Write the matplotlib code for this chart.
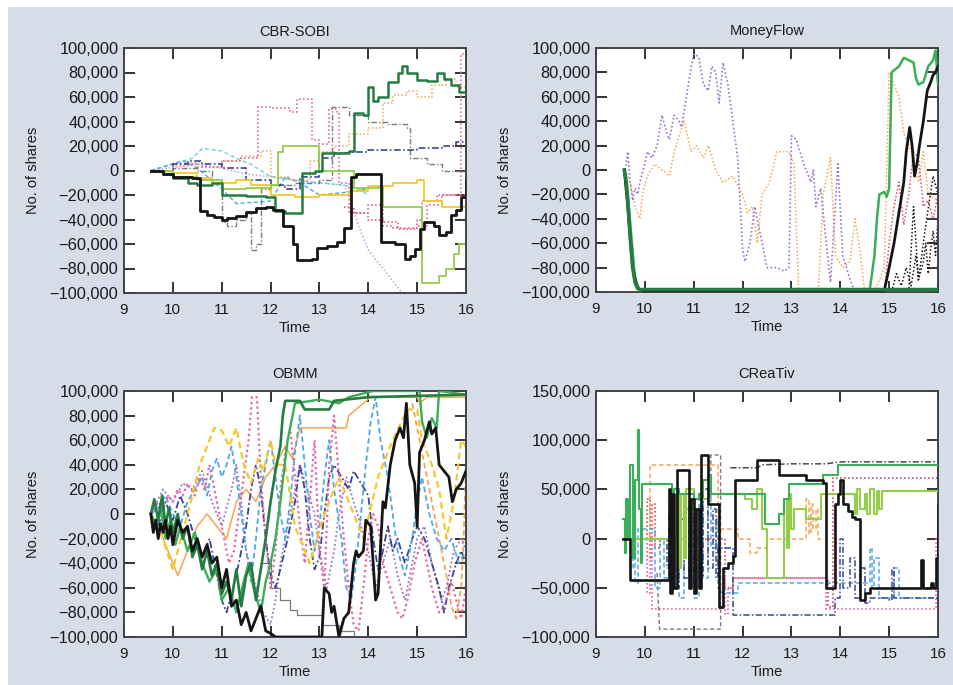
import matplotlib
matplotlib.use("Agg")
import matplotlib.pyplot as plt
from matplotlib.ticker import FuncFormatter
from matplotlib.patches import Rectangle

plt.rcParams['font.family'] = ['Liberation Sans', 'DejaVu Sans']

# ---------------- data (time in hours, values in thousands of shares) ----------------
titles = ["CBR-SOBI", "MoneyFlow", "OBMM", "CReaTiv"]
x_ticks = [9, 10, 11, 12, 13, 14, 15, 16]
y_ticks_a = [-100000, -80000, -60000, -40000, -20000, 0, 20000, 40000, 60000, 80000, 100000]
y_ticks_b = [-100000, -50000, 0, 50000, 100000, 150000]

# CBR-SOBI
sobi_black = [(9.55,0),(9.8,-3),(10.0,-5),(10.2,-5),(10.4,-6),(10.55,-33),(10.7,-36),(10.85,-38),(11.0,-40),(11.1,-39),(11.3,-37),(11.5,-34),(11.7,-31),(11.9,-30),(12.05,-32),(12.25,-45),(12.45,-60),(12.55,-73),(12.85,-72),(12.95,-63),(13.15,-62),(13.35,-58),(13.5,-47),(13.65,-5),(13.75,-3),(14.2,-3),(14.27,-58),(14.55,-60),(14.75,-72),(14.85,-70),(14.95,-64),(15.05,-48),(15.15,-42),(15.35,-45),(15.45,-53),(15.6,-50),(15.7,-36),(15.8,-32),(15.9,-22),(16.0,-8)]
sobi_dkgreen = [(9.55,0),(9.8,-3),(10.0,-6),(10.3,-10),(10.5,-12),(10.8,-10),(11.0,-20),(11.2,-20),(11.5,-21),(11.9,-22),(12.1,-33),(12.3,-35),(12.65,-2),(12.9,0),(13.05,14),(13.6,16),(13.7,47),(13.9,45),(14.0,68),(14.1,57),(14.2,60),(14.4,72),(14.6,80),(14.7,85),(14.8,80),(15.0,74),(15.2,73),(15.4,80),(15.55,75),(15.7,70),(15.85,64),(16.0,60)]
sobi_ltgreen = [(9.55,0),(10.0,-5),(10.5,-8),(11.0,-15),(11.5,-14),(12.0,-12),(12.15,15),(12.25,20),(12.9,20),(13.0,0),(13.5,0),(13.7,-14),(14.25,-13),(14.3,-30),(15.0,-30),(15.1,-92),(15.45,-86),(15.6,-80),(15.75,-68),(15.85,-60),(16.0,-40)]
sobi_yellow = [(9.55,0),(10.0,-2),(10.5,-6),(10.8,-10),(11.3,-8),(11.6,-12),(12.0,-20),(12.5,-22),(13.0,-20),(13.6,-17),(14.0,-13),(14.5,-10),(15.0,-8),(15.15,-25),(15.5,-30),(16.0,-40)]
sobi_pink = [(9.55,0),(10.0,5),(10.5,3),(11.0,8),(11.4,10),(11.7,10),(11.75,52),(12.0,51),(12.4,48),(12.55,58),(12.85,25),(13.0,22),(13.2,50),(13.35,48),(13.4,-10),(13.6,-35),(14.0,-28),(14.3,-45),(14.5,-47),(15.0,-45),(15.2,-28),(15.5,-20),(15.85,-20),(15.9,95),(16.0,95)]
sobi_orange = [(9.55,0),(10.0,4),(10.3,6),(10.6,3),(11.0,8),(11.4,12),(11.8,16),(12.0,-5),(12.4,-8),(12.8,8),(13.0,15),(13.3,20),(13.6,30),(14.0,35),(14.3,55),(14.5,62),(14.8,65),(15.0,60),(15.3,70),(15.6,75),(15.8,68),(16.0,70)]
sobi_navy = [(9.55,0),(10.0,5),(10.3,8),(10.6,5),(11.0,2),(11.5,-8),(12.0,-12),(12.3,-15),(12.6,-5),(13.0,10),(13.3,14),(13.6,15),(14.0,17),(14.5,17),(15.0,18),(15.5,20),(15.8,23),(16.0,24)]
sobi_gray = [(9.55,0),(10.0,2),(10.5,0),(10.8,-10),(11.0,-42),(11.1,-45),(11.3,-40),(11.5,-35),(11.6,-65),(11.7,-60),(11.8,-15),(12.0,-12),(12.5,-10),(13.0,-8),(13.25,52),(13.6,45),(14.0,40),(14.4,38),(14.8,35),(14.85,10),(15.2,5),(15.5,0),(16.0,-5)]
sobi_lavender = [(9.55,0),(10.5,5),(11.0,2),(11.5,-3),(12.0,-5),(12.5,-8),(13.0,-10),(13.5,-12),(13.6,-20),(13.8,-45),(14.0,-65),(14.2,-75),(14.5,-90),(14.65,-98),(14.75,-100)]
sobi_cyan = [(9.55,0),(10.0,5),(10.4,10),(10.6,18),(11.0,16),(11.3,10),(11.6,5),(12.0,-5),(12.5,-8),(13.0,-10),(13.5,-12),(13.8,-15),(14.0,-20)]
sobi_red = [(13.5,-30),(13.7,-35),(14.0,-40),(14.3,-42),(14.6,-48),(15.0,-40),(15.1,-25),(15.4,-20),(15.7,-20),(16.0,-15)]
sobi_blue = [(9.55,0),(10.2,8),(10.5,2),(11.0,-15),(11.3,-27),(12.0,-25),(12.3,-5),(12.6,-10),(13.0,-20),(13.5,-18),(14.0,-15)]

# MoneyFlow
mf_dkgreen = [(9.58,0),(9.62,-10),(9.65,-25),(9.7,-55),(9.75,-80),(9.8,-92),(9.85,-97),(9.9,-98),(16.0,-98)]
mf_black = [(9.58,0),(9.65,-30),(9.75,-80),(9.85,-97),(9.95,-99),(14.9,-99),(15.0,-80),(15.1,-60),(15.2,-35),(15.3,-10),(15.35,15),(15.42,35),(15.47,20),(15.52,-5),(15.57,5),(15.62,20),(15.7,40),(15.78,65),(15.85,72),(15.9,78),(15.95,80),(16.0,85)]
mf_green = [(9.58,0),(9.65,-20),(9.8,-90),(9.9,-99),(14.6,-99),(14.7,-70),(14.75,-40),(14.8,-20),(14.9,-18),(14.95,-22),(15.0,-15),(15.05,80),(15.2,85),(15.3,92),(15.4,90),(15.5,88),(15.55,75),(15.6,70),(15.7,72),(15.8,85),(15.9,90),(15.95,98),(16.0,70)]
mf_purple = [(9.6,0),(9.65,15),(9.7,-10),(9.75,-25),(9.8,-15),(9.85,-20),(9.9,-10),(10.0,5),(10.05,15),(10.15,10),(10.25,20),(10.35,45),(10.45,30),(10.5,25),(10.6,45),(10.7,40),(10.75,35),(10.85,60),(10.95,85),(11.0,95),(11.1,93),(11.2,70),(11.3,65),(11.37,85),(11.45,80),(11.52,55),(11.6,88),(11.7,70),(11.8,40),(11.9,10),(12.0,-65),(12.05,-75),(12.15,-60),(12.25,-30),(12.35,-50),(12.5,-80),(12.7,-80),(12.85,-83),(12.95,-80),(13.0,28),(13.1,25),(13.25,5),(13.4,-10),(13.45,0),(13.5,-30),(13.6,-15),(13.7,-55),(13.8,-92),(13.85,-60),(13.95,5),(14.05,-70),(14.2,-90),(14.3,-100)]
mf_orange = [(9.6,0),(9.7,-10),(9.8,-30),(9.9,-40),(9.95,-20),(10.05,-5),(10.2,5),(10.35,0),(10.5,-5),(10.6,15),(10.8,40),(10.95,15),(11.05,20),(11.2,10),(11.3,20),(11.45,0),(11.6,-10),(11.8,-5),(12.0,-20),(12.1,-35),(12.2,-30),(12.3,-60),(12.4,-20),(12.55,-10),(12.7,15),(12.95,15),(13.05,5),(13.15,-100),(13.55,-100),(13.65,-20),(13.8,10),(13.9,-70),(14.05,-80),(14.2,-75),(14.3,-40),(14.4,-65),(14.5,-100),(14.7,-100),(14.9,-80),(15.0,80),(15.1,70),(15.2,60),(15.3,30),(15.45,15),(15.5,10),(15.6,-10),(15.7,15),(15.8,-20),(16.0,-25)]
mf_red = [(14.9,-100),(15.0,-60),(15.1,-30),(15.2,-10),(15.3,-45),(15.4,-20),(15.5,15),(15.6,10),(15.7,-30),(15.8,-25),(15.9,-40),(16.0,-20)]
mf_blackdot1 = [(15.05,-100),(15.15,-85),(15.25,-95),(15.35,-80),(15.45,-95),(15.55,-70),(15.6,-90),(15.7,-75),(15.75,-60),(15.8,-85),(15.85,-65),(15.9,-50),(15.95,-70),(16.0,-40)]
mf_blackdot2 = [(15.4,-100),(15.5,-30),(15.6,-90),(15.75,-45),(15.9,-5),(16.0,-20)]

# OBMM
ob_black = [(9.55,0),(9.6,-15),(9.65,-5),(9.7,-20),(9.75,-8),(9.8,-15),(9.85,-5),(9.9,-20),(9.95,-10),(10.0,-25),(10.1,-5),(10.2,-15),(10.3,-10),(10.4,-30),(10.5,-20),(10.6,-35),(10.7,-25),(10.8,-40),(10.9,-35),(11.0,-60),(11.1,-45),(11.2,-75),(11.3,-70),(11.4,-90),(11.5,-80),(11.6,-95),(11.7,-85),(11.8,-75),(11.9,-95),(12.0,-97),(12.1,-100),(13.05,-100),(13.1,-60),(13.2,-65),(13.25,-80),(13.3,-75),(13.4,-100),(13.5,-85),(13.6,-80),(13.7,-40),(13.75,-30),(13.8,-35),(13.9,-30),(13.95,-5),(14.05,-10),(14.15,-70),(14.2,-65),(14.3,10),(14.35,5),(14.45,40),(14.55,60),(14.65,70),(14.72,62),(14.78,90),(14.85,40),(14.95,25),(15.0,-10),(15.05,50),(15.15,60),(15.25,75),(15.3,65),(15.38,70),(15.45,40),(15.55,35),(15.65,30),(15.72,10),(15.8,20),(15.9,25),(16.0,35)]
ob_dkgreen = [(9.55,0),(9.62,12),(9.7,-5),(9.78,15),(9.85,-10),(9.92,5),(10.0,-15),(10.1,0),(10.2,-20),(10.3,-10),(10.4,-35),(10.5,-25),(10.6,-45),(10.7,-30),(10.8,-50),(10.9,-40),(11.0,-65),(11.1,-55),(11.2,-70),(11.3,-45),(11.4,-75),(11.5,-50),(11.6,-40),(11.7,-70),(11.8,-45),(11.9,-20),(12.0,10),(12.1,35),(12.2,55),(12.25,80),(12.3,92),(12.6,92),(12.7,85),(13.2,85),(13.3,92),(14.0,95),(16.0,97)]
ob_green = [(9.55,0),(9.65,-10),(9.75,5),(9.85,-20),(9.95,-5),(10.05,-25),(10.15,-10),(10.3,-30),(10.45,-15),(10.6,-40),(10.75,-55),(10.9,-45),(11.0,-70),(11.15,-60),(11.3,-80),(11.45,-55),(11.55,-40),(11.65,-60),(11.8,-80),(11.9,-55),(12.0,-40),(12.1,-20),(12.2,10),(12.35,60),(12.5,90),(13.0,93),(13.4,90),(13.6,95),(14.1,100),(15.05,100),(15.1,75),(15.2,62),(15.3,78),(15.4,70),(15.45,100),(16.0,97)]
ob_yellow = [(9.55,0),(9.75,-15),(10.0,-45),(10.2,-15),(10.4,15),(10.55,40),(10.7,55),(10.85,70),(11.0,68),(11.15,55),(11.3,70),(11.45,40),(11.6,25),(11.75,45),(11.85,35),(12.0,60),(12.1,40),(12.3,40),(12.5,-10),(12.8,-40),(13.1,0),(13.4,30),(13.6,10),(13.9,-20),(14.2,30),(14.5,60),(14.8,85),(15.0,85),(15.1,60),(15.3,40),(15.45,20),(15.6,-20),(15.75,10),(15.9,60),(16.0,55)]
ob_orange = [(9.55,0),(9.7,-10),(9.9,-30),(10.1,-50),(10.3,-30),(10.5,-10),(10.7,0),(10.9,-10),(11.1,-20),(11.3,10),(11.5,20),(11.7,10),(11.9,30),(12.1,40),(12.3,55),(12.45,45),(12.6,70),(13.55,70),(13.6,80),(13.75,85),(13.9,90),(14.05,95),(15.0,95),(15.05,90),(15.2,95),(16.0,95)]
ob_pink = [(9.55,0),(9.7,10),(9.8,5),(9.9,15),(10.0,10),(10.1,20),(10.2,15),(10.3,25),(10.45,15),(10.55,30),(10.65,20),(10.75,40),(10.85,20),(10.95,0),(11.05,-20),(11.15,-40),(11.25,-30),(11.35,0),(11.45,30),(11.55,60),(11.62,95),(11.72,95),(11.8,30),(11.9,-20),(12.0,-60),(12.1,-30),(12.2,20),(12.3,50),(12.4,70),(12.5,30),(12.6,-10),(12.7,-40),(12.8,10),(12.9,60),(13.0,-30),(13.1,-60),(13.2,40),(13.3,80),(13.4,30),(13.5,-20),(13.6,-60),(13.7,-90),(13.8,-95),(13.9,-60),(14.0,-20),(14.1,0),(14.2,-10),(14.3,-40),(14.45,-60),(14.6,-80),(14.7,-85),(14.8,-70),(14.95,-40),(15.1,-20),(15.2,-40),(15.3,-60),(15.45,-80),(15.55,-75),(15.7,-55),(15.8,-70),(15.9,-85),(16.0,-60)]
ob_blue = [(9.55,0),(9.7,5),(9.85,15),(10.0,0),(10.15,-10),(10.3,10),(10.45,20),(10.6,30),(10.7,15),(10.8,35),(10.9,45),(11.0,30),(11.1,40),(11.2,55),(11.3,30),(11.4,0),(11.5,-30),(11.6,-55),(11.7,-20),(11.8,20),(11.9,40),(12.0,60),(12.1,30),(12.2,0),(12.3,-20),(12.4,10),(12.5,50),(12.6,80),(12.7,40),(12.8,0),(12.9,-30),(13.0,-10),(13.1,30),(13.2,60),(13.3,20),(13.45,-20),(13.55,-60),(13.65,-70),(13.75,-40),(13.85,0),(13.95,40),(14.05,75),(14.15,95),(14.25,60),(14.4,30),(14.5,0),(14.6,-30),(14.75,-50),(14.9,-20),(15.0,10),(15.1,30),(15.25,0),(15.4,-20),(15.55,-30),(15.7,-20),(15.85,-40),(16.0,-30)]
ob_navy = [(9.55,0),(9.7,-10),(9.85,10),(10.0,-5),(10.15,15),(10.3,0),(10.45,-20),(10.6,-35),(10.75,-20),(10.9,-50),(11.0,-70),(11.1,-80),(11.2,-65),(11.35,-40),(11.5,-10),(11.6,20),(11.7,40),(11.8,20),(11.9,-20),(12.0,-50),(12.1,-60),(12.2,-45),(12.35,-20),(12.5,10),(12.6,40),(12.7,20),(12.8,-20),(12.9,-45),(13.0,-35),(13.1,0),(13.2,30),(13.3,40),(13.45,30),(13.6,20),(13.7,35),(13.85,25),(14.0,15),(14.1,-20),(14.2,-45),(14.3,-30),(14.4,-10),(14.5,-30),(14.6,-20),(14.75,-40),(14.9,-20),(15.0,-10),(15.15,-20),(15.3,-40),(15.45,-60),(15.55,-80),(15.65,-60),(15.8,-40),(15.9,-30),(16.0,-40)]
ob_purple = [(9.55,0),(9.8,20),(10.0,10),(10.2,25),(10.4,20),(10.6,35),(10.8,10),(11.0,-10),(11.2,20),(11.3,40),(11.4,10),(11.5,-30),(11.7,-60),(11.85,-80),(12.0,-90),(12.1,-70),(12.2,-40),(12.4,0),(12.6,40),(12.75,20),(12.9,0),(13.0,-30),(13.15,-60),(13.3,-30),(13.4,0),(13.55,30),(13.7,10),(13.85,-10),(14.0,-30),(14.15,-60),(14.3,-40),(14.45,-20),(14.6,-50),(14.75,-70),(14.9,-40),(15.0,-20),(15.15,-10),(15.3,-40),(15.5,-70),(15.6,-60),(15.75,-30),(15.9,-20),(16.0,-30)]
ob_orange2 = [(14.9,90),(15.0,70),(15.1,50),(15.2,30),(15.3,10),(15.45,-20),(15.6,-50),(15.7,-75),(15.8,-85),(15.9,-60),(15.95,-20),(16.0,40)]
ob_gray = [(11.8,-40),(12.0,-60),(12.2,-70),(12.4,-78),(12.55,-82),(13.0,-82),(13.05,-90),(13.4,-95),(13.7,-100),(16.0,-100)]

# CReaTiv
cr_black = [(9.55,0),(9.7,-42),(10.45,-42),(10.5,50),(10.52,-55),(10.55,45),(10.6,-50),(10.65,70),(10.85,70),(10.9,-50),(10.95,40),(11.0,-55),(11.05,30),(11.1,-50),(11.15,85),(11.25,85),(11.3,35),(11.52,-70),(11.6,-30),(11.7,-25),(11.8,-18),(11.85,60),(12.25,60),(12.3,80),(12.7,80),(12.75,65),(13.2,65),(13.3,60),(13.65,57),(13.7,-50),(13.85,-50),(13.9,35),(13.95,45),(14.0,60),(14.05,35),(14.15,28),(14.25,22),(14.3,20),(14.4,-62),(14.5,-55),(14.6,-50),(15.6,-50),(15.65,-22),(15.7,-50),(15.85,-45),(15.9,-50),(15.95,-20),(16.0,35)]
cr_green = [(9.55,20),(9.6,-15),(9.62,40),(9.65,0),(9.7,75),(9.75,-20),(9.8,60),(9.85,110),(9.88,30),(9.92,-25),(9.95,55),(10.5,55),(10.55,40),(10.6,50),(10.7,45),(11.0,40),(11.1,45),(11.2,60),(11.3,65),(11.35,45),(11.7,45),(11.9,45),(12.35,45),(12.45,15),(12.7,15),(12.75,25),(12.85,40),(12.95,55),(13.6,55),(13.65,65),(13.9,65),(13.95,75),(16.0,75)]
cr_ltgreen = [(9.55,0),(10.6,0),(10.65,45),(10.7,-30),(10.75,45),(10.8,-20),(10.85,50),(11.0,30),(11.1,-20),(11.15,40),(11.3,45),(11.9,45),(12.05,40),(12.2,30),(12.3,50),(12.4,10),(12.5,-40),(12.75,-40),(12.85,40),(12.9,-10),(12.95,45),(13.0,10),(13.05,30),(13.3,20),(13.6,45),(13.7,45),(14.2,45),(14.3,25),(14.35,50),(14.4,30),(14.5,45),(14.55,25),(14.6,50),(14.7,25),(14.75,48),(14.8,30),(14.85,48),(16.0,48)]
cr_orange = [(9.55,0),(10.05,0),(10.1,75),(11.45,75),(11.5,10),(11.9,0),(12.1,0),(12.15,-15),(12.3,-10),(12.5,0),(13.2,0),(13.3,40),(13.35,5),(13.4,35),(13.45,10),(13.5,30),(13.55,0),(13.6,0)]
cr_red = [(9.55,0),(10.0,0),(10.05,40),(10.1,-20),(10.15,35),(10.2,-10),(10.3,0),(11.6,0),(11.65,-50),(11.8,-40),(13.7,-40),(13.75,-70),(13.85,62),(16.0,62)]
cr_pink = [(9.55,0),(10.0,0),(10.05,-55),(10.1,-20),(10.15,-72),(11.55,-72),(11.6,-40),(11.65,-77),(11.7,-50),(11.8,-40),(13.65,-40),(13.7,-72),(15.9,-72),(15.95,0),(16.0,-80)]
cr_blue = [(9.55,0),(9.65,10),(9.7,-30),(9.75,20),(9.8,-45),(9.85,10),(10.2,-50),(10.3,0),(10.4,-40),(10.5,10),(10.6,-40),(10.65,40),(10.7,-60),(10.8,30),(10.9,-30),(11.0,-60),(11.1,40),(11.2,-40),(11.3,50),(11.35,-10),(11.45,20),(11.5,-50),(11.55,-55),(11.8,-55),(11.9,-45),(13.7,-45),(14.5,-45),(14.6,-10),(14.65,-50),(14.7,-20),(14.8,-60),(15.0,-60),(15.1,-30),(15.2,-60),(16.0,-60)]
cr_navy = [(9.55,0),(10.4,0),(10.45,-30),(10.5,30),(10.6,-50),(10.7,20),(10.8,-40),(10.9,40),(10.95,-50),(11.0,30),(11.1,-40),(11.2,50),(11.3,-30),(11.4,30),(11.45,-40),(11.5,-10),(11.8,-78),(13.7,-78),(13.9,-60),(14.0,0),(14.05,-50),(14.2,-20),(14.3,-60),(14.4,-30),(14.5,-65),(14.6,-60),(15.0,-62),(15.05,-30),(15.1,-60),(16.0,-60)]
cr_dkgray = [(11.75,72),(12.3,72),(12.4,75),(13.0,76),(13.7,76),(14.0,78),(16.0,78)]
cr_graybox = [(10.25,-35),(10.3,-92),(11.55,-92),(11.55,85),(11.35,85),(11.35,40)]

# ---------------- styles ----------------
C_BLACK = '#151515'
C_DKGREEN = '#237d41'
C_GREEN = '#3aae58'
C_LTGREEN = '#95cc4a'
C_YELLOW = '#f3c82a'
C_ORANGE = '#f5a552'
C_PINK = '#e565a8'
C_RED = '#dc4d60'
C_PURPLE = '#9873c9'
C_BLUE = '#4fa8e2'
C_NAVY = '#3a4592'
C_GRAY = '#7a7a7a'
C_LAV = '#b9a3da'
C_CYAN = '#6fcfe4'

DOT = (0, (1, 1.4))
DASH = (0, (3, 1.8))
DASHDOT = (0, (4, 1.5, 1, 1.5))

BG = '#d7dde8'

fig = plt.figure(figsize=(9.54, 6.85), dpi=100, facecolor='white')
fig.patches.append(Rectangle((8/954, 0), 1, 1 - 7/685, transform=fig.transFigure,
                             facecolor=BG, edgecolor='none', zorder=-10))

W, H = 954, 685
def axes_px(l, r, t, b):
    return fig.add_axes([l / W, 1 - b / H, (r - l) / W, (b - t) / H])

ax1 = axes_px(124, 466, 48, 293)
ax2 = axes_px(596, 938, 48, 292)
ax3 = axes_px(124, 466, 391, 637)
ax4 = axes_px(596, 938, 391, 637)

def fmt(v, pos):
    return f"{v:,.0f}".replace('-', '\u2212')

def style(ax, title, yticks, ylim):
    ax.set_facecolor('white')
    ax.set_xlim(9, 16)
    ax.set_ylim(*ylim)
    ax.set_xticks(x_ticks)
    ax.set_yticks(yticks)
    ax.yaxis.set_major_formatter(FuncFormatter(fmt))
    ax.tick_params(direction='in', length=8, width=1.4, top=True, right=True,
                   colors='#333333', labelcolor='#1a1a1a')
    ax.tick_params(axis='x', pad=7, labelsize=11)
    ax.tick_params(axis='y', pad=4, labelsize=11.8)
    for s in ax.spines.values():
        s.set_linewidth(1.4)
        s.set_color('#444444')
    ax.set_title(title, fontsize=10.5, pad=9, color='#1a1a1a')
    ax.set_xlabel('Time', fontsize=10.5, labelpad=3, color='#1a1a1a')
    ax.set_ylabel('No. of shares', fontsize=10.5, labelpad=7, color='#1a1a1a')

def draw(ax, pts, color, ls='-', lw=1.2, steps=False, z=2):
    t = [p[0] for p in pts]
    v = [p[1] * 1000 for p in pts]
    ax.plot(t, v, color=color, ls=ls, lw=lw, zorder=z, clip_on=True,
            drawstyle='steps-post' if steps else 'default')

# Panel 1
style(ax1, titles[0], y_ticks_a, (-100000, 100000))
draw(ax1, sobi_lavender, C_LAV, DOT, 1.1)
draw(ax1, sobi_cyan, C_CYAN, DASH, 1.0)
draw(ax1, sobi_blue, C_BLUE, DASH, 1.0)
draw(ax1, sobi_red, C_RED, DOT, 1.1, True)
draw(ax1, sobi_orange, C_ORANGE, DOT, 1.1, True)
draw(ax1, sobi_pink, C_PINK, DOT, 1.2, True)
draw(ax1, sobi_gray, C_GRAY, DASHDOT, 1.0, True)
draw(ax1, sobi_navy, C_NAVY, DASHDOT, 1.2, True)
draw(ax1, sobi_yellow, C_YELLOW, '-', 1.3, True)
draw(ax1, sobi_ltgreen, C_LTGREEN, '-', 1.3, True)
draw(ax1, sobi_dkgreen, C_DKGREEN, '-', 1.8, True, 3)
draw(ax1, sobi_black, C_BLACK, '-', 2.0, True, 4)

# Panel 2
style(ax2, titles[1], y_ticks_a, (-100000, 100000))
draw(ax2, mf_orange, C_ORANGE, DOT, 1.1)
draw(ax2, mf_purple, C_PURPLE, DOT, 1.2)
draw(ax2, mf_red, C_RED, DOT, 1.1)
draw(ax2, mf_blackdot1, C_BLACK, DOT, 1.1)
draw(ax2, mf_blackdot2, C_BLACK, DOT, 1.1)
draw(ax2, mf_green, C_GREEN, '-', 1.8, False, 3)
draw(ax2, mf_black, C_BLACK, '-', 2.0, False, 4)
draw(ax2, mf_dkgreen, C_DKGREEN, '-', 2.6, False, 5)

# Panel 3
style(ax3, titles[2], y_ticks_a, (-100000, 100000))
draw(ax3, ob_gray, C_GRAY, '-', 0.9, True)
draw(ax3, ob_orange, C_ORANGE, '-', 1.1)
draw(ax3, ob_orange2, C_ORANGE, DASH, 1.3)
draw(ax3, ob_purple, C_PURPLE, DOT, 1.3)
draw(ax3, ob_navy, C_NAVY, DASHDOT, 1.3)
draw(ax3, ob_blue, C_BLUE, DASH, 1.3)
draw(ax3, ob_pink, C_PINK, DOT, 1.6)
draw(ax3, ob_yellow, C_YELLOW, DASH, 1.6)
draw(ax3, ob_green, C_GREEN, '-', 1.7, False, 3)
draw(ax3, ob_dkgreen, C_DKGREEN, '-', 1.9, False, 3)
draw(ax3, ob_black, C_BLACK, '-', 2.0, False, 4)

# Panel 4
style(ax4, titles[3], y_ticks_b, (-100000, 150000))
draw(ax4, cr_graybox, C_GRAY, DASH, 1.0)
draw(ax4, cr_dkgray, '#4a4a4a', DASHDOT, 1.1)
draw(ax4, cr_pink, C_PINK, DOT, 1.2, True)
draw(ax4, cr_red, C_RED, DOT, 1.2, True)
draw(ax4, cr_orange, C_ORANGE, DASH, 1.1, True)
draw(ax4, cr_blue, C_BLUE, DASH, 1.1, True)
draw(ax4, cr_navy, C_NAVY, DASHDOT, 1.1, True)
draw(ax4, cr_ltgreen, C_LTGREEN, '-', 1.5, True, 3)
draw(ax4, cr_green, C_GREEN, '-', 1.5, True, 3)
draw(ax4, cr_black, C_BLACK, '-', 1.9, True, 4)

fig.savefig('out.png', dpi=100, facecolor=fig.get_facecolor())
